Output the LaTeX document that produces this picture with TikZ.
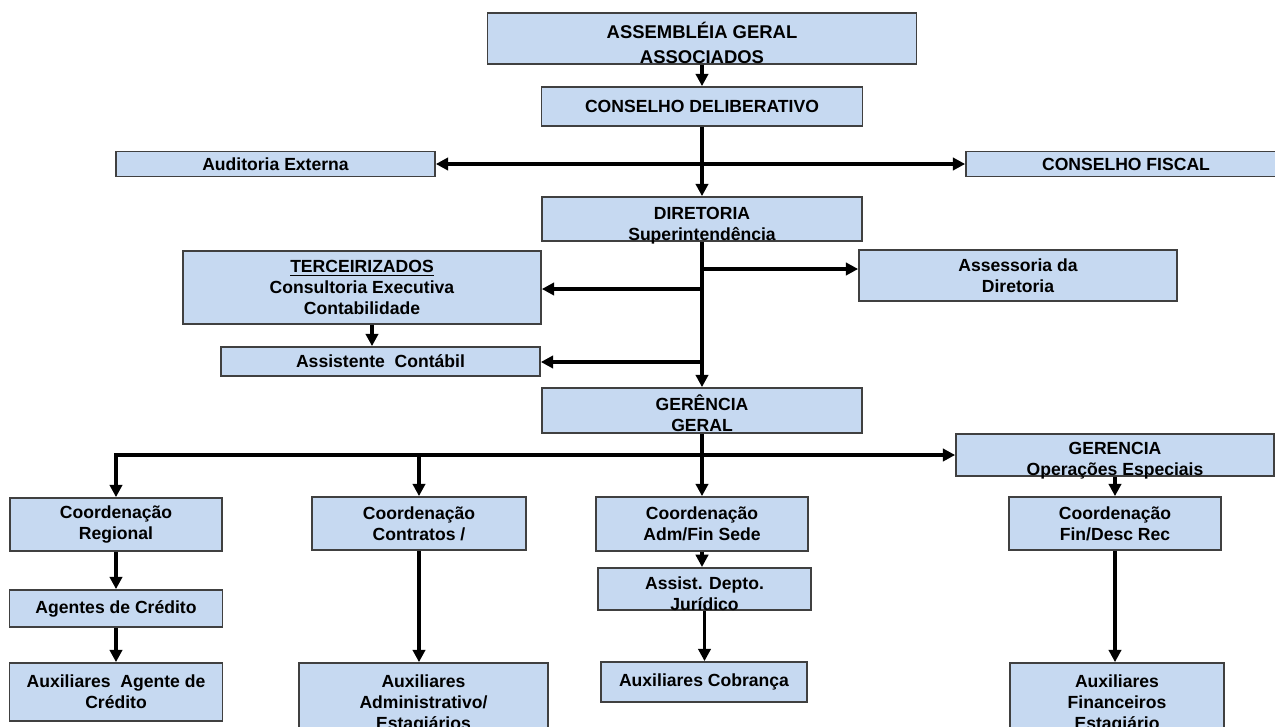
\documentclass[tikz,border=0pt]{standalone}
\usepackage{fontspec}
\setmainfont{Liberation Sans}
\usetikzlibrary{arrows.meta}
\definecolor{boxfill}{HTML}{C6D9F1}
\definecolor{boxline}{HTML}{404040}
\begin{document}
\begin{tikzpicture}
[x=0.02cm,y=-0.02cm,%
 boxstyle/.style={draw=boxline,line width=1pt,fill=boxfill,inner sep=0pt,align=center,%
   font=\fontsize{10}{12}\selectfont\bfseries},%
 lowtext/.style 2 args={text height=#1,text depth=#2},%
 linkstyle/.style={line width=2pt,>={Triangle[length=7pt,width=7pt]}}]
\useasboundingbox (0,0) rectangle (1275,727);
%% top of the chart
\node[boxstyle,minimum width=8.58cm,minimum height=1.02cm,font=\fontsize{10.5}{14}\selectfont\bfseries,lowtext={28.3pt}{0pt}] (asm) at (702,38.5) {ASSEMBLÉIA GERAL\\ASSOCIADOS};
\node[boxstyle,minimum width=6.42cm,minimum height=0.78cm] (cdel) at (702,106.5) {CONSELHO DELIBERATIVO};
\node[boxstyle,minimum width=6.38cm,minimum height=0.5cm] (aud) at (275.5,164) {Auditoria Externa};
\node[boxstyle,minimum width=6.4cm,minimum height=0.5cm] (cfis) at (1126,164) {CONSELHO FISCAL};
\node[boxstyle,minimum width=6.4cm,minimum height=0.88cm,lowtext={24.3pt}{0pt}] (dir) at (702,219) {DIRETORIA\\Superintendência};
%% staff of the board
\node[boxstyle,minimum width=7.16cm,minimum height=1.46cm] (terc) at (362,287.5) {\underline{TERCEIRIZADOS}\\Consultoria Executiva\\Contabilidade};
\node[boxstyle,minimum width=6.38cm,minimum height=0.58cm] (asct) at (380.5,361.5) {Assistente~ Contábil};
\node[boxstyle,minimum width=6.36cm,minimum height=1.02cm] (asses) at (1018,275.5) {Assessoria da\\Diretoria};
\node[boxstyle,minimum width=6.4cm,minimum height=0.9cm,lowtext={24.3pt}{0pt}] (gger) at (702,410.5) {GERÊNCIA\\GERAL};
\node[boxstyle,minimum width=6.36cm,minimum height=0.84cm,lowtext={23.8pt}{-1pt}] (gop) at (1115,455) {GERENCIA\\Operações Especiais};
%% coordinations
\node[boxstyle,minimum width=4.24cm,minimum height=1.06cm] (creg) at (116,524.5) {Coordenação\\Regional};
\node[boxstyle,minimum width=4.28cm,minimum height=1.06cm] (ccon) at (419,523.5) {Coordenação\\Contratos /};
\node[boxstyle,minimum width=4.24cm,minimum height=1.08cm] (cadm) at (702,524) {Coordenação\\Adm/Fin Sede};
\node[boxstyle,minimum width=4.24cm,minimum height=1.06cm] (cfin) at (1115,523.5) {Coordenação\\Fin/Desc Rec};
%% lower level
\node[boxstyle,minimum width=4.26cm,minimum height=0.74cm] (agc) at (116,608.5) {Agentes de Crédito};
\node[boxstyle,minimum width=4.26cm,minimum height=0.76cm,lowtext={24pt}{-2.5pt}] (adj) at (704.5,589) {Assist. Depto.\\Jurídico};
\node[boxstyle,minimum width=4.26cm,minimum height=1.16cm] (auxag) at (116,692) {Auxiliares~ Agente de\\Crédito};
\node[boxstyle,minimum width=4.98cm,minimum height=1.64cm] (auxadm) at (423.5,704) {Auxiliares\\Administrativo/\\Estagiários};
\node[boxstyle,minimum width=4.12cm,minimum height=0.8cm] (auxcob) at (704,682) {Auxiliares Cobrança};
\node[boxstyle,minimum width=4.28cm,minimum height=1.64cm] (auxfin) at (1117,704) {Auxiliares\\Financeiros\\Estagiário};
%% junctions on the trunk
\coordinate (j1) at (702,269);
\coordinate (j2) at (702,289);
\coordinate (j3) at (702,362);
%% connectors
\draw[linkstyle,->] (asm) -- (cdel);
\draw[linkstyle,->] (cdel) -- (dir);
\draw[linkstyle,<->] (aud) -- (cfis);
\draw[linkstyle,->] (dir) -- (gger);
\draw[linkstyle,->] (j1) -- (j1 -| asses.west);
\draw[linkstyle,->] (j2) -- (j2 -| terc.east);
\draw[linkstyle,->] (j3) -- (j3 -| asct.east);
\draw[linkstyle,->] ([xshift=0.2cm]terc.south) -- ([xshift=0.2cm]terc.south |- asct.north);
\draw[linkstyle,->] (gger) -- (cadm);
\draw[linkstyle,<->] (creg.north) -- (creg.north |- gop.west) -- (gop.west);
\draw[linkstyle,->] (ccon.north |- gop.west) -- (ccon.north);
\draw[linkstyle,->] (gop) -- (cfin);
\draw[linkstyle,->] (creg) -- (agc);
\draw[linkstyle,->] (agc) -- (auxag);
\draw[linkstyle,->] (ccon.south) -- (ccon.south |- auxadm.north);
\draw[linkstyle,->] (cadm.south) -- (cadm.south |- adj.north);
\draw[linkstyle,->] (adj.south) -- (adj.south |- auxcob.north);
\draw[linkstyle,->] (cfin.south) -- (cfin.south |- auxfin.north);
\end{tikzpicture}
\end{document}
